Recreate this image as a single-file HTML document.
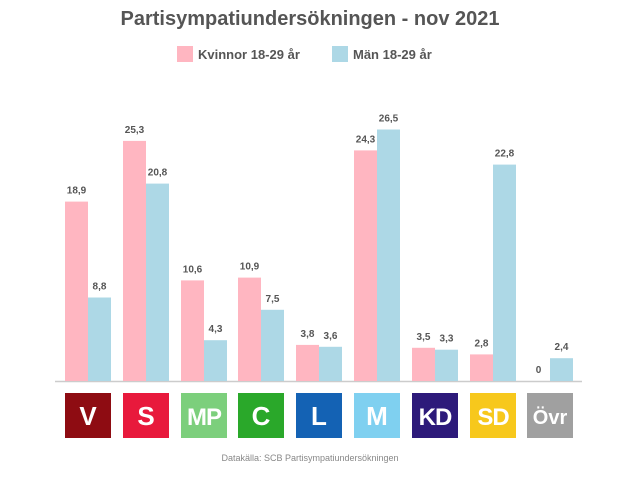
<!DOCTYPE html><html><head><meta charset="utf-8"><style>
body{margin:0;background:#fff;font-family:"Liberation Sans",sans-serif}
</style></head><body>
<svg width="621" height="486" xmlns="http://www.w3.org/2000/svg" font-family="Liberation Sans, sans-serif">
<text x="310" y="25" text-anchor="middle" font-size="20" font-weight="bold" fill="#555">Partisympatiundersökningen - nov 2021</text>
<rect x="177" y="46" width="16" height="16" fill="#ffb6c1"/>
<text x="198" y="59" font-size="13" font-weight="bold" fill="#555">Kvinnor 18-29 år</text>
<rect x="332" y="46" width="16" height="16" fill="#add8e6"/>
<text x="353" y="59" font-size="13" font-weight="bold" fill="#555">Män 18-29 år</text>
<line x1="55" y1="381.5" x2="582" y2="381.5" stroke="#ccc" stroke-width="1.5"/>
<g fill="#ffb6c1">
<rect x="65" y="201.6" width="23" height="179.4"/>
<rect x="123" y="140.9" width="23" height="240.1"/>
<rect x="181" y="280.4" width="23" height="100.6"/>
<rect x="238" y="277.6" width="23" height="103.4"/>
<rect x="296" y="344.9" width="23" height="36.1"/>
<rect x="354" y="150.4" width="23" height="230.6"/>
<rect x="412" y="347.8" width="23" height="33.2"/>
<rect x="470" y="354.4" width="23" height="26.6"/>
</g>
<g fill="#add8e6">
<rect x="88" y="297.5" width="23" height="83.5"/>
<rect x="146" y="183.6" width="23" height="197.4"/>
<rect x="204" y="340.2" width="23" height="40.8"/>
<rect x="261" y="309.8" width="23" height="71.2"/>
<rect x="319" y="346.8" width="23" height="34.2"/>
<rect x="377" y="129.5" width="23" height="251.5"/>
<rect x="435" y="349.7" width="23" height="31.3"/>
<rect x="493" y="164.6" width="23" height="216.4"/>
<rect x="550" y="358.2" width="23" height="22.8"/>
</g>
<g font-size="10" font-weight="bold" fill="#555" text-anchor="middle">
<text x="76.5" y="193.6">18,9</text><text x="99.5" y="289.5">8,8</text>
<text x="134.5" y="132.9">25,3</text><text x="157.5" y="175.6">20,8</text>
<text x="192.5" y="272.4">10,6</text><text x="215.5" y="332.2">4,3</text>
<text x="249.5" y="269.6">10,9</text><text x="272.5" y="301.8">7,5</text>
<text x="307.5" y="336.9">3,8</text><text x="330.5" y="338.8">3,6</text>
<text x="365.5" y="142.4">24,3</text><text x="388.5" y="121.5">26,5</text>
<text x="423.5" y="339.8">3,5</text><text x="446.5" y="341.7">3,3</text>
<text x="481.5" y="346.4">2,8</text><text x="504.5" y="156.6">22,8</text>
<text x="538.5" y="373">0</text><text x="561.5" y="350.2">2,4</text>
</g>
<rect x="65" y="393" width="46" height="45" fill="#8e0c12"/>
<rect x="123" y="393" width="46" height="45" fill="#e8193c"/>
<rect x="181" y="393" width="46" height="45" fill="#7ccf7c"/>
<rect x="238" y="393" width="46" height="45" fill="#2aa82a"/>
<rect x="296" y="393" width="46" height="45" fill="#1462b4"/>
<rect x="354" y="393" width="46" height="45" fill="#7fd0f0"/>
<rect x="412" y="393" width="46" height="45" fill="#2d1a7a"/>
<rect x="470" y="393" width="46" height="45" fill="#f7c81c"/>
<rect x="527" y="393" width="46" height="45" fill="#a0a0a0"/>
<g font-weight="bold" text-anchor="middle" fill="#fff" font-size="26">
<text x="88" y="425">V</text>
<text x="146" y="425">S</text>
<text x="204" y="425" font-size="24" letter-spacing="-1">MP</text>
<text x="261" y="425">C</text>
<text x="319" y="425">L</text>
<text x="377" y="425">M</text>
<text x="435" y="425" font-size="24" letter-spacing="-1">KD</text>
<text x="493" y="425" font-size="24" letter-spacing="-1">SD</text>
<text x="550" y="424" font-size="20">Övr</text>
</g>
<text x="310" y="461" text-anchor="middle" font-size="9" fill="#888">Datakälla: SCB Partisympatiundersökningen</text>
</svg></body></html>
